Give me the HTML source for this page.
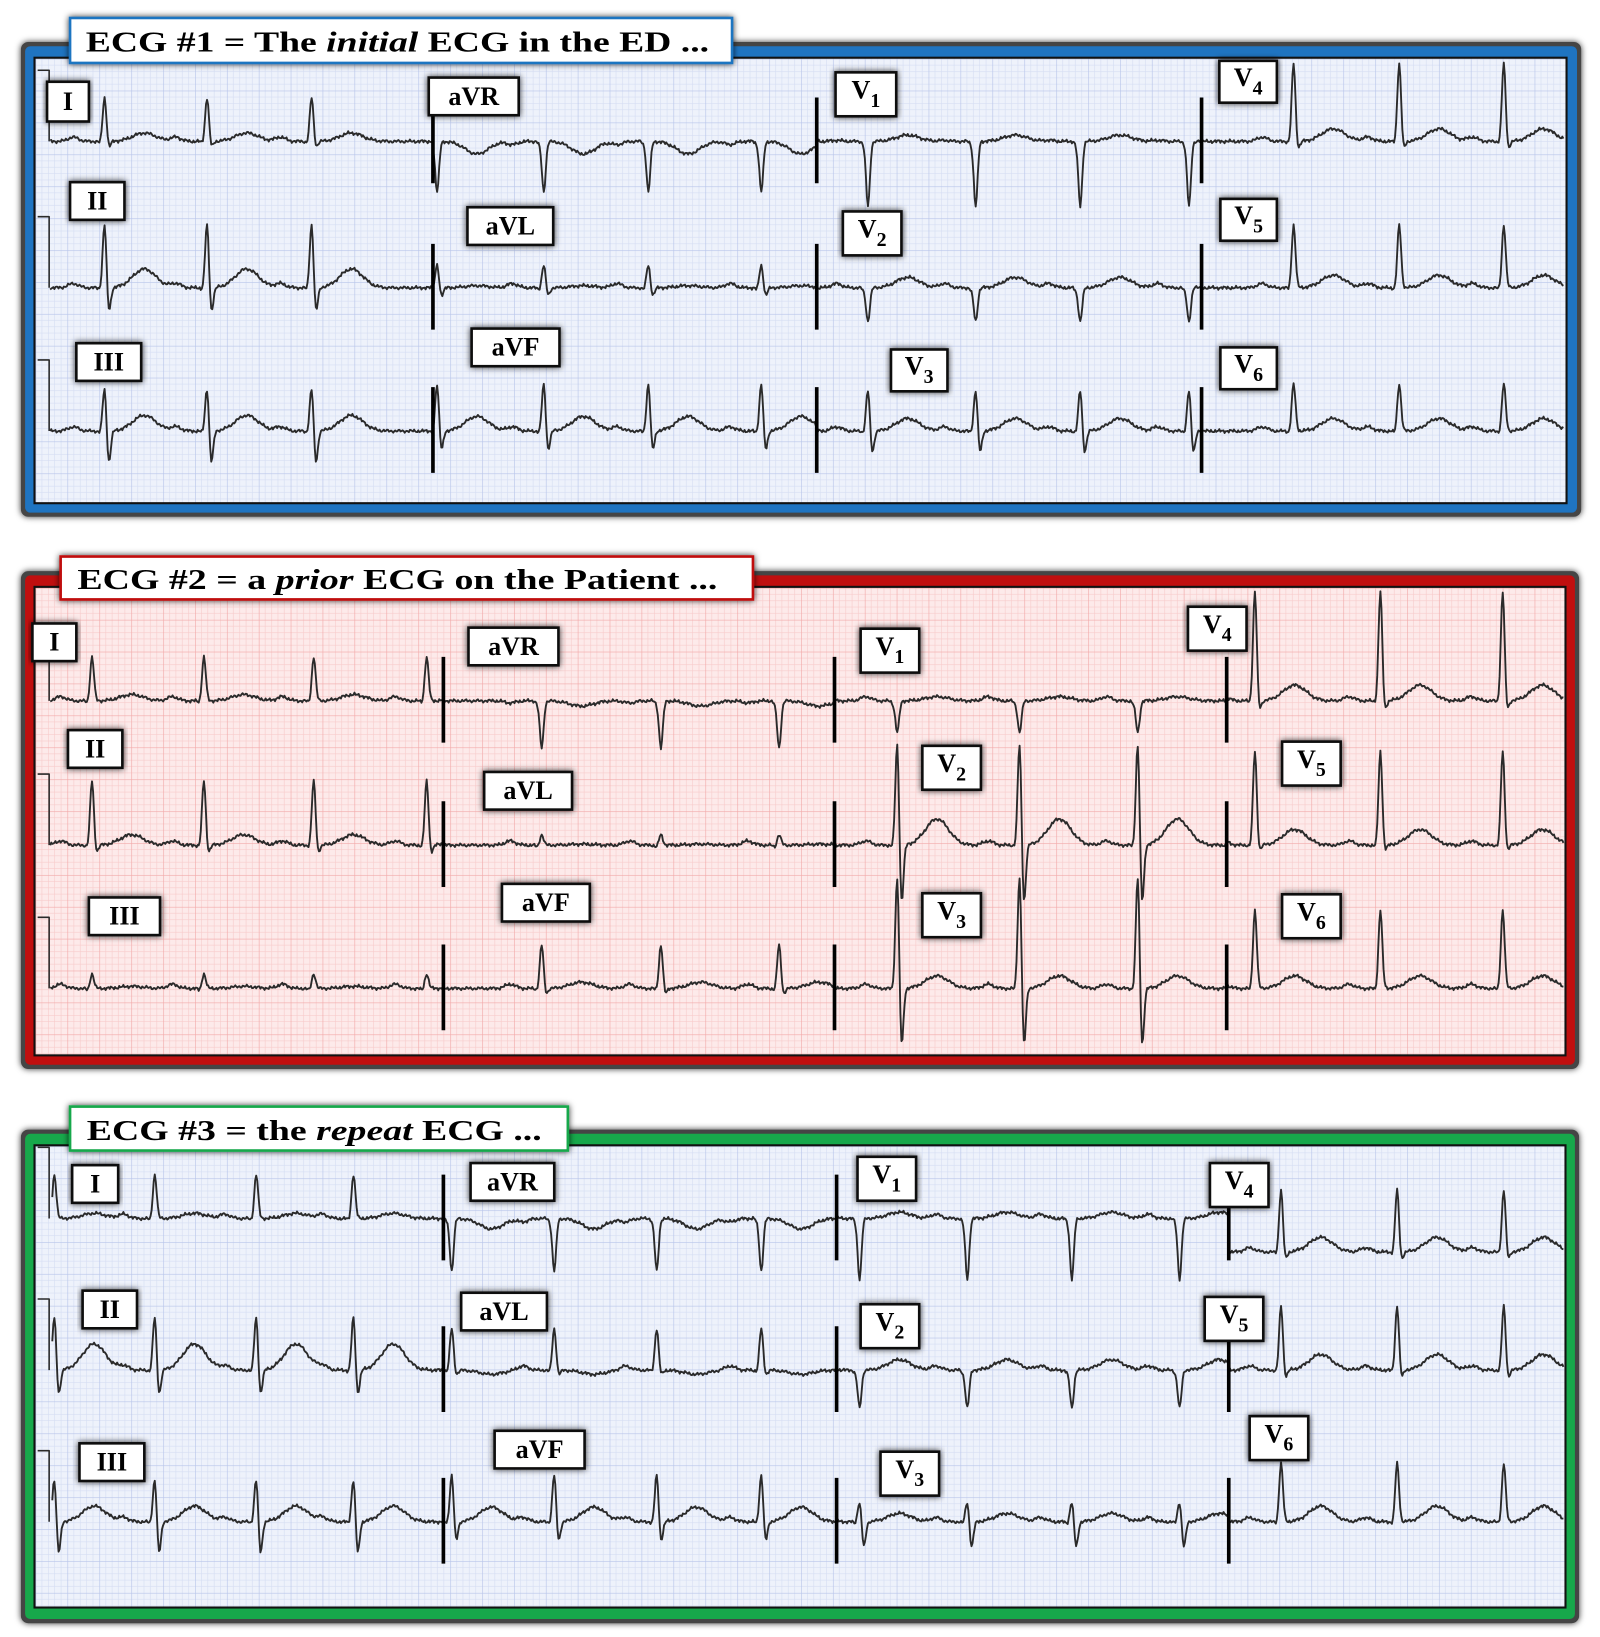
<!DOCTYPE html>
<html><head><meta charset="utf-8"><style>
html,body{margin:0;padding:0;background:#fff;}
svg{display:block;}
text{font-family:"Liberation Serif",serif;font-weight:bold;}
</style></head><body>
<svg id="s" width="1600" height="1637" viewBox="0 0 1530 1565" xmlns="http://www.w3.org/2000/svg">
<defs>
<pattern id="gb" width="30.5" height="30.5" patternUnits="userSpaceOnUse" x="34" y="56">
<rect width="30.5" height="30.5" fill="#eef2fb"/>
<path d="M6.1 0V30.5M12.2 0V30.5M18.3 0V30.5M24.4 0V30.5M0 6.1H30.5M0 12.2H30.5M0 18.3H30.5M0 24.4H30.5" stroke="#d6def3" stroke-width="0.6"/>
<path d="M0 0V30.5M0 0H30.5" stroke="#b8c5ea" stroke-width="1.2"/>
</pattern>
<pattern id="gr" width="30.5" height="30.5" patternUnits="userSpaceOnUse" x="34" y="562">
<rect width="30.5" height="30.5" fill="#fdeaea"/>
<path d="M6.1 0V30.5M12.2 0V30.5M18.3 0V30.5M24.4 0V30.5M0 6.1H30.5M0 12.2H30.5M0 18.3H30.5M0 24.4H30.5" stroke="#f8cccc" stroke-width="0.6"/>
<path d="M0 0V30.5M0 0H30.5" stroke="#f2a9a9" stroke-width="1.2"/>
</pattern>
<pattern id="gg" width="30.5" height="30.5" patternUnits="userSpaceOnUse" x="34" y="1096">
<rect width="30.5" height="30.5" fill="#eef2fb"/>
<path d="M6.1 0V30.5M12.2 0V30.5M18.3 0V30.5M24.4 0V30.5M0 6.1H30.5M0 12.2H30.5M0 18.3H30.5M0 24.4H30.5" stroke="#d6def3" stroke-width="0.6"/>
<path d="M0 0V30.5M0 0H30.5" stroke="#b8c5ea" stroke-width="1.2"/>
</pattern>
<filter id="sh" x="-10%" y="-30%" width="120%" height="160%"><feDropShadow dx="0" dy="0" stdDeviation="3" flood-color="#000" flood-opacity="0.8"/></filter>
</defs>

<rect x="20" y="40" width="1492" height="454" rx="7" fill="#444" filter="url(#sh)"/>
<rect x="24" y="44" width="1484" height="446" rx="5" fill="#1f74c1"/>
<rect x="33" y="55" width="1465" height="426" fill="url(#gb)" stroke="#111" stroke-width="2"/>
<rect x="20" y="546" width="1490" height="476" rx="7" fill="#444" filter="url(#sh)"/>
<rect x="24" y="550" width="1482" height="468" rx="5" fill="#c00f0f"/>
<rect x="33" y="561" width="1464" height="448" fill="url(#gr)" stroke="#111" stroke-width="2"/>
<rect x="20" y="1080" width="1490" height="472" rx="7" fill="#444" filter="url(#sh)"/>
<rect x="24" y="1084" width="1482" height="464" rx="5" fill="#17a84b"/>
<rect x="33" y="1095" width="1464" height="442" fill="url(#gg)" stroke="#111" stroke-width="2"/>

<g id="traces" fill="none" stroke="#2a2a2a" stroke-width="1.8" stroke-linejoin="round"></g>
<g id="bars" stroke="#000" stroke-width="3.5"></g>

<g filter="url(#sh)">
<rect x="67" y="17" width="633" height="43" fill="#fff" stroke="#1f74c1" stroke-width="2.5"/>
<rect x="58" y="532" width="662" height="41" fill="#fff" stroke="#c00f0f" stroke-width="2.5"/>
<rect x="67" y="1058" width="476" height="42" fill="#fff" stroke="#17a84b" stroke-width="2.5"/>
</g>
<text x="82" y="49" font-size="27" textLength="596" lengthAdjust="spacingAndGlyphs">ECG #1 = The <tspan font-style="italic">initial</tspan> ECG in the ED ...</text>
<text x="74" y="563" font-size="27" textLength="612" lengthAdjust="spacingAndGlyphs">ECG #2 = a <tspan font-style="italic">prior</tspan> ECG on the Patient ...</text>
<text x="83" y="1090" font-size="27" textLength="435" lengthAdjust="spacingAndGlyphs">ECG #3 = the <tspan font-style="italic">repeat</tspan> ECG ...</text>

<g id="labels"></g>
</svg>
<script>
var NS="http://www.w3.org/2000/svg";
function el(t,a,p){var e=document.createElementNS(NS,t);for(var k in a)e.setAttribute(k,a[k]);p.appendChild(e);return e;}
var tr=document.getElementById('traces'),bars=document.getElementById('bars'),lab=document.getElementById('labels');
function g(x,c,s){return Math.exp(-(x-c)*(x-c)/(2*s*s));}
function lead(x0,x1,base,beats,p){
  var d="",seed=x0*0.37+base*0.11;
  for(var x=x0;x<=x1;x+=1){
    var y=0;
    for(var i=0;i<beats.length;i++){
      var b=beats[i],t=x-b;
      if(t<-60||t>80)continue;
      y+= (p.P||4)*g(t,-30,5);
      y-= (p.Q||2)*g(t,-4,1.5);
      y+= p.R*g(t,0,1.8);
      y-= (p.S||0)*g(t,4,1.8);
      y+= (p.T||0)*g(t,38,11);
    }
    y+=0.9*Math.sin(x*1.7+seed)+0.6*Math.sin(x*0.53+seed)+0.5*Math.sin(x*3.1);
    d+=(x==x0?"M":"L")+x+" "+(base-y+(p.off||0)).toFixed(1);
  }
  el('path',{d:d},tr);
}
function panel(cols,rows,data){
  for(var r=0;r<3;r++){
    var base=rows[r];
    el('path',{d:"M36 "+(base-68)+"H47V"+base,fill:"none",stroke:"#2a2a2a","stroke-width":1.5},tr);
    for(var c=0;c<4;c++){
      var L=data[r][c];
      lead(cols[c][0],cols[c][1],base,L[0],L[1]);
      if(c>0)el('line',{x1:cols[c][0],x2:cols[c][0],y1:base-42,y2:base+40},bars);
    }
  }
}
var A=[100,198,298],B=[418,520,620,728],C=[830,933,1033,1137],D=[1237,1338,1438];
panel([[48,414],[414,781],[781,1149],[1149,1495]],[135,275,412],[
 [[A,{R:42,S:6,T:8}],[B,{R:-48,T:-12,P:-3}],[C,{R:-62,T:6,P:1}],[D,{R:75,S:8,T:12}]],
 [[A,{R:62,S:25,T:18}],[B,{R:22,S:8,T:2}],[C,{R:-32,T:10}],[D,{R:60,T:12}]],
 [[A,{R:42,S:32,T:15}],[B,{R:46,S:20,T:14}],[C,{R:40,S:22,T:12}],[D,{R:45,T:12}]]
]);
var A2=[88,195,300,408],B2=[518,632,745],C2=[858,975,1088],D2=[1200,1320,1437];
panel([[48,424],[424,798],[798,1173],[1173,1495]],[670,808,945],[
 [[A2,{R:42,T:6}],[B2,{R:-45,T:-5,P:-2}],[C2,{R:-30,T:4}],[D2,{R:105,S:10,T:15}]],
 [[A2,{R:62,S:8,T:10}],[B2,{R:10,T:1}],[C2,{R:100,S:60,T:25}],[D2,{R:90,S:6,T:15}]],
 [[A2,{R:14,T:2}],[B2,{R:42,S:6,T:6}],[C2,{R:110,S:60,T:12}],[D2,{R:75,T:12}]]
]);
var A3=[52,148,245,338],B3=[432,530,628,728],C3=[822,925,1025,1128],D3=[1225,1336,1438];
panel([[50,424],[424,800],[800,1175],[1175,1495]],[1165,1310,1455],[
 [[A3,{R:42,T:5}],[B3,{R:-50,T:-10,P:-3}],[C3,{R:-58,T:6}],[D3,{R:60,S:8,T:14,off:32}]],
 [[A3,{R:52,S:25,T:25}],[B3,{R:40,S:5,T:-4}],[C3,{R:-36,T:10}],[D3,{R:62,S:8,T:15}]],
 [[A3,{R:42,S:32,T:15}],[B3,{R:46,S:20,T:14}],[C3,{R:20,S:25,T:8}],[D3,{R:56,T:15}]]
]);
var labs=[
["I",45,78,40,38],["aVR",410,74,86,36],["V","1",799,69,58,42],["V","4",1166,58,55,40],
["II",67,174,52,36],["aVL",447,198,82,36],["V","2",806,202,56,42],["V","5",1167,190,54,40],
["III",73,328,62,36],["aVF",451,314,84,36],["V","3",852,334,54,40],["V","6",1167,332,54,40],
["I",31,596,42,36],["aVR",448,600,86,36],["V","1",823,601,56,42],["V","4",1136,580,56,42],
["II",65,698,52,36],["aVL",463,738,84,36],["V","2",882,713,56,42],["V","5",1226,709,56,42],
["III",85,858,68,36],["aVF",480,845,84,36],["V","3",882,854,56,42],["V","6",1226,855,56,42],
["I",69,1114,44,36],["aVR",450,1112,80,36],["V","1",820,1106,56,42],["V","4",1157,1112,56,42],
["II",79,1234,52,36],["aVL",441,1236,82,36],["V","2",823,1247,56,42],["V","5",1152,1240,56,42],
["III",76,1380,62,36],["aVF",473,1368,86,36],["V","3",842,1388,56,42],["V","6",1195,1354,56,42]
];
labs.forEach(function(l){
  var sub=null,t=l[0],o=1;
  if(l.length==6){sub=l[1];o=2;}
  var x=l[o],y=l[o+1],w=l[o+2],h=l[o+3];
  el('rect',{x:x,y:y,width:w,height:h,fill:"#fff",stroke:"#111","stroke-width":2.5,filter:"url(#sh)"},lab);
  var tx=el('text',{x:x+w/2,y:y+h/2+8,"font-size":25,"text-anchor":"middle",fill:"#000"},lab);
  if(sub){tx.setAttribute('y',y+h/2+4);tx.textContent="V";var ts=el('tspan',{dy:8,"font-size":19},tx);ts.textContent=sub;}
  else tx.textContent=t;
});
</script>
</body></html>
